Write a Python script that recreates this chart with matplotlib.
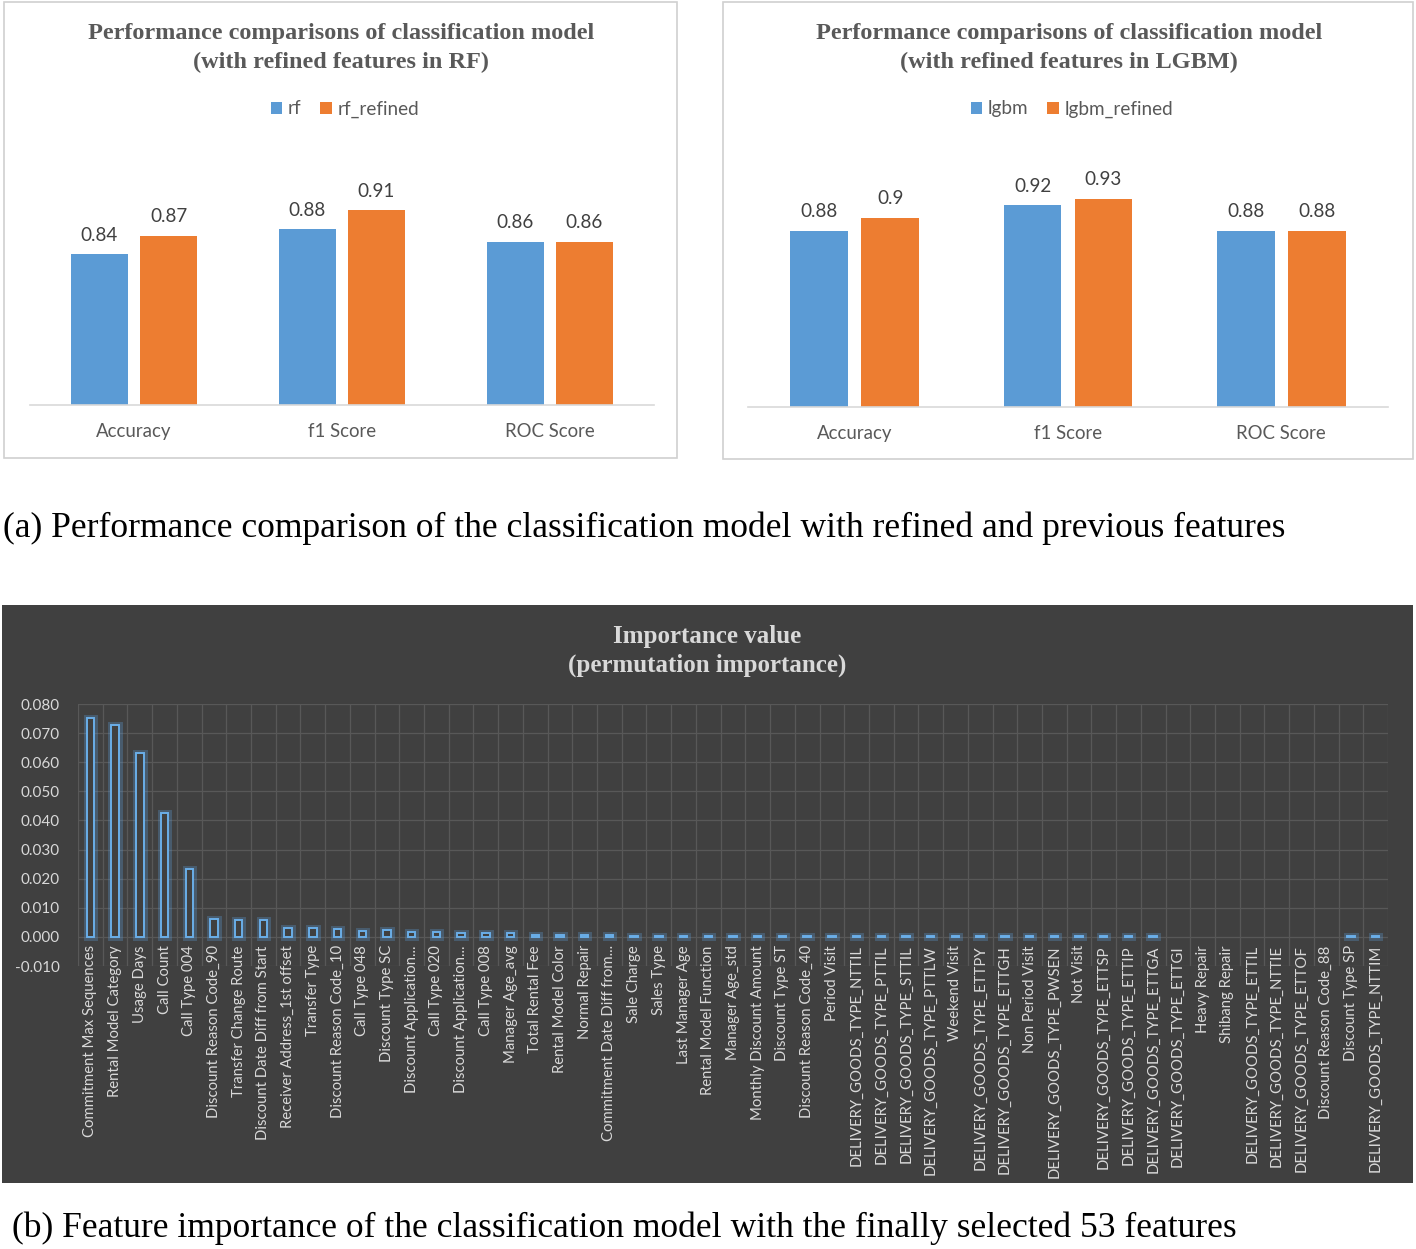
import matplotlib
matplotlib.use("Agg")
import matplotlib.pyplot as plt
import numpy as np
from matplotlib.patches import Rectangle

plt.rcParams["axes.unicode_minus"] = False

W, H = 1416, 1249
SANS = ["Lato", "DejaVu Sans"]
SERIF = ["Liberation Serif", "DejaVu Serif"]

BLUE = "#5b9bd5"
ORANGE = "#ed7d31"
TXT = "#595959"
DARK = "#404040"

# ---- data: panel (a)
metrics = ["Accuracy", "f1 Score", "ROC Score"]
rf = [0.84, 0.88, 0.86]
rf_refined = [0.87, 0.91, 0.86]
lgbm = [0.88, 0.92, 0.88]
lgbm_refined = [0.90, 0.93, 0.88]

# ---- data: panel (b)
features = [
    "Commitment Max Sequences", "Rental Model Category", "Usage Days", "Call Count",
    "Call Type 004", "Discount Reason Code_90", "Transfer Change Route",
    "Discount Date Diff from Start", "Receiver Address_1st offset", "Transfer Type",
    "Discount Reason Code_10", "Call Type 048", "Discount Type SC",
    "Discount Application...", "Call Type 020", "Discount Application...",
    "Call Type 008", "Manager Age_avg", "Total Rental Fee", "Rental Model Color",
    "Normal Repair", "Commitment Date Diff from...", "Sale Charge", "Sales Type",
    "Last Manager Age", "Rental Model Function", "Manager Age_std",
    "Monthly Discount Amount", "Discount Type ST", "Discount Reason Code_40",
    "Period Visit", "DELIVERY_GOODS_TYPE_NTTIL", "DELIVERY_GOODS_TYPE_PTTIL",
    "DELIVERY_GOODS_TYPE_STTIL", "DELIVERY_GOODS_TYPE_PTTLW", "Weekend Visit",
    "DELIVERY_GOODS_TYPE_ETTPY", "DELIVERY_GOODS_TYPE_ETTGH", "Non Period Visit",
    "DELIVERY_GOODS_TYPE_PWSEN", "Not Visit", "DELIVERY_GOODS_TYPE_ETTSP",
    "DELIVERY_GOODS_TYPE_ETTIP", "DELIVERY_GOODS_TYPE_ETTGA",
    "DELIVERY_GOODS_TYPE_ETTGI", "Heavy Repair", "Shibang Repair",
    "DELIVERY_GOODS_TYPE_ETTIL", "DELIVERY_GOODS_TYPE_NTTIE",
    "DELIVERY_GOODS_TYPE_ETTOF", "Discount Reason Code_88", "Discount Type SP",
    "DELIVERY_GOODS_TYPE_NTTIM",
]
importance = [
    0.0752, 0.0728, 0.0630, 0.0424, 0.0233, 0.0060, 0.0057, 0.0058, 0.0032, 0.0031,
    0.0028, 0.0021, 0.0022, 0.0018, 0.0017, 0.0015, 0.0015, 0.0012, 0.0008, 0.0007,
    0.0006, 0.0006, 0.0004, 0.0004, 0.0004, 0.0004, 0.0004, 0.0004, 0.0004, 0.0004,
    0.0004, 0.0004, 0.0004, 0.0004, 0.0004, 0.0004, 0.0004, 0.0004, 0.0004, 0.0004,
    0.0004, 0.0004, 0.0004, 0.0004, 0.0, 0.0, 0.0, 0.0, 0.0, 0.0, 0.0, 0.0004, 0.0004,
]
imp_ticks = [-0.010, 0.000, 0.010, 0.020, 0.030, 0.040, 0.050, 0.060, 0.070, 0.080]


def box(l, t, r, b):
    """pixel box -> figure fraction rect"""
    return [l / W, 1 - b / H, (r - l) / W, (b - t) / H]


def ftext(x, y, s, **kw):
    fig.text(x / W, 1 - y / H, s, **kw)


fig = plt.figure(figsize=(W / 100, H / 100), dpi=100)
fig.patch.set_facecolor("white")

# panel borders
for l, t, r, b in [(4, 2, 677, 458), (723, 2, 1413, 459)]:
    fig.patches.append(Rectangle((l / W, 1 - b / H), (r - l) / W, (b - t) / H,
                                 transform=fig.transFigure, fill=False,
                                 edgecolor="#d0d0d0", lw=1.2, zorder=-1))


def comparison(rect, base, refined, names, cx, title2, leg_x):
    ax = fig.add_axes(rect)
    x = np.arange(len(metrics))
    off, w = 0.166, 0.27
    ax.bar(x - off, base, w, color=BLUE)
    ax.bar(x + off, refined, w, color=ORANGE)
    for xs, vs in ((x - off, base), (x + off, refined)):
        for xv, v in zip(xs, vs):
            ax.text(xv, v + 0.017, f"{v:g}", ha="center", va="bottom",
                    fontsize=13.6, color=DARK, family=SANS)
    ax.set_xlim(-0.5, 2.5)
    ax.set_ylim(0.6, 1.0)
    ax.set_yticks([])
    ax.set_xticks(x)
    ax.set_xticklabels(metrics, fontsize=13.4, color=TXT, family=SANS)
    ax.tick_params(axis="x", length=0, pad=13)
    for s in ("top", "right", "left"):
        ax.spines[s].set_visible(False)
    ax.spines["bottom"].set_color("#d9d9d9")
    ax.spines["bottom"].set_linewidth(1.2)
    ax.patch.set_alpha(0)

    ftext(cx, 33, "Performance comparisons of classification model", ha="center",
          va="center", fontsize=17.5, weight="bold", color=TXT, family=SERIF)
    ftext(cx, 62, title2, ha="center", va="center", fontsize=17.5,
          weight="bold", color=TXT, family=SERIF)
    leg = fig.legend(ax.containers, names, loc="center",
                     bbox_to_anchor=(leg_x / W, 1 - 109 / H),
                     frameon=False, ncol=2, handlelength=0.6,
                     handleheight=0.6, columnspacing=1.0, handletextpad=0.3,
                     prop={"family": SANS, "size": 13.6})
    for t in leg.get_texts():
        t.set_color(TXT)
    return ax


comparison(box(30, 154, 654, 405), rf, rf_refined, ["rf", "rf_refined"],
           341, "(with refined features in RF)", 345)
comparison(box(748, 155, 1388, 407), lgbm, lgbm_refined,
           ["lgbm", "lgbm_refined"], 1069, "(with refined features in LGBM)", 1072)

ftext(3, 528, "(a) Performance comparison of the classification model with refined and previous features",
      ha="left", va="center", fontsize=25.6, color="black", family=SERIF)

# ---- panel (b): dark feature importance chart
fig.patches.append(Rectangle((2 / W, 1 - 1183 / H), 1411 / W, 578 / H,
                             transform=fig.transFigure, facecolor=DARK,
                             edgecolor="none", zorder=-1))
ftext(707, 636, "Importance value", ha="center", va="center", fontsize=18,
      weight="bold", color="#d9d9d9", family=SERIF)
ftext(707, 665, "(permutation importance)", ha="center", va="center", fontsize=18,
      weight="bold", color="#d9d9d9", family=SERIF)

ax3 = fig.add_axes(box(78, 704, 1388, 966))
ax3.set_facecolor(DARK)
# category labels hang from the zero line (set before ticks: this resets them)
ax3.spines["bottom"].set_position(("data", 0))
for s in ax3.spines.values():
    s.set_visible(False)

xi = np.arange(len(features))
vals = np.array(importance)
edge_glow = [(0.36, 0.61, 0.84, 0.30) if v != 0 else "none" for v in vals]
edge = ["#6aaee8" if v != 0 else "none" for v in vals]
ax3.bar(xi, vals, 0.3, facecolor="none", edgecolor=edge_glow, linewidth=5, zorder=3)
ax3.bar(xi, vals, 0.3, facecolor=DARK, edgecolor=edge, linewidth=1.4, zorder=4)
ax3.set_xlim(-0.5, len(features) - 0.5)
ax3.set_ylim(-0.010, 0.080)
ax3.set_yticks(imp_ticks)
ax3.set_yticklabels([f"{t:.3f}" for t in imp_ticks], fontsize=11,
                    color="#d9d9d9", family=SANS)
ax3.set_xticks(xi)
ax3.set_xticklabels(features, rotation=90, fontsize=10.7, color="#d9d9d9",
                    family=SANS)
ax3.set_xticks(np.arange(-0.5, len(features), 1.0), minor=True)
ax3.tick_params(axis="both", which="both", length=0)
ax3.tick_params(axis="x", pad=6)
ax3.tick_params(axis="y", pad=13)
ax3.grid(axis="y", which="major", color="#585858", lw=0.9, zorder=0)
ax3.grid(axis="x", which="minor", color="#585858", lw=0.9, zorder=0)
ax3.set_axisbelow(True)

ftext(12, 1228, "(b) Feature importance of the classification model with the finally selected 53 features",
      ha="left", va="center", fontsize=25.6, color="black", family=SERIF)

fig.savefig("out.png", dpi=100, facecolor="white")
